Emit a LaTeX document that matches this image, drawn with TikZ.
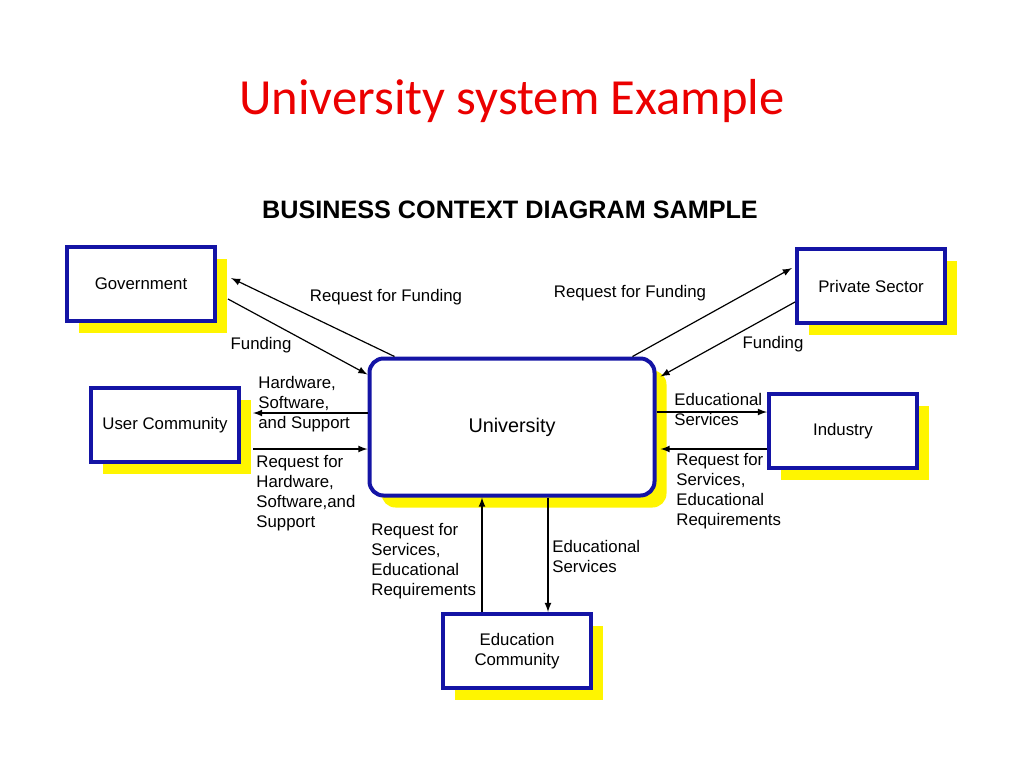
\documentclass[tikz,border=0pt]{standalone}
\usepackage{fontspec}
\setmainfont{Liberation Sans}
\newfontfamily\titlefont{Carlito}
\usetikzlibrary{shadows}
\definecolor{boxblue}{RGB}{20,20,165}
\definecolor{titlered}{RGB}{235,0,0}
\definecolor{shadowyellow}{RGB}{255,245,0}
\begin{document}
\begin{tikzpicture}[x=0.5pt, y=-0.5pt, font=\fontsize{8.4}{10}\selectfont,
    entity/.style={draw=boxblue, line width=2pt, fill=white, align=center,
      minimum width=74pt, minimum height=37pt,
      drop shadow={fill=shadowyellow, shadow xshift=6pt, shadow yshift=-6pt, opacity=1}},
    flow/.style={align=left, inner sep=0pt, anchor=west},
    link/.style={-latex, line width=0.6pt}]
            \useasboundingbox (0,0) rectangle (1024,768);
            % Titles
            \node[anchor=base, text=titlered, font=\titlefont\fontsize{25.3}{30}\selectfont] (title) at (512,114) {University system Example};
            \node[anchor=base, font=\bfseries\fontsize{12.6}{15}\selectfont] (sub) at (510,218) {BUSINESS CONTEXT DIAGRAM SAMPLE};

            % Nodes
            \node[entity] (gov) at (141,284) {Government};
            \node[entity] (priv) at (871,286) {Private Sector};
            \node[entity] (user) at (165,425) {User Community};
            \node[entity] (ind) at (843,431) {Industry};
            \node[entity] (edu) at (517,651) {Education\\Community};
            \node[entity, rounded corners=7pt, minimum width=142.5pt, minimum height=68.5pt,
              font=\fontsize{9.9}{12}\selectfont] (uni) at (512,427) {University};

            % Lines
            \draw[link] ([xshift=13.5pt]uni.north west) -- ([xshift=7pt,yshift=3pt]gov.east);
            \draw[link] ([xshift=5.5pt,yshift=-7.5pt]gov.east) -- ([yshift=-9pt]uni.north west);
            \draw[link] ([xshift=-12pt]uni.north east) -- ([xshift=-1.5pt,yshift=9pt]priv.west);
            \draw[link] ([yshift=-8pt]priv.west) -- ([xshift=2pt,yshift=-10pt]uni.north east);
            \draw[link] ([yshift=7pt]uni.west) -- ([xshift=6pt,yshift=6pt]user.east);
            \draw[link] ([xshift=6pt,yshift=-12pt]user.east) -- ([yshift=-11pt]uni.west);
            \draw[link] ([yshift=7.5pt]uni.east) -- ([yshift=9.5pt]ind.west);
            \draw[link] ([yshift=-9pt]ind.west) -- ([xshift=2pt,yshift=-11pt]uni.east);
            \draw[link] ([xshift=-17.5pt]edu.north) -- ([xshift=-17.5pt]edu.north |- uni.south);
            \draw[link] ([xshift=18pt]uni.south) -- ([xshift=18pt]uni.south |- edu.north);

            % Labels
            \node[flow, anchor=center] (gr) at (386,297) {Request for Funding};
            \node[flow, anchor=center] (gf) at (261,345) {Funding};
            \node[flow, anchor=center] (pr) at (630,293) {Request for Funding};
            \node[flow, anchor=center] (pf) at (773,344) {Funding};
            \node[flow] (uh) at (258,404) {Hardware,\\Software,\\and Support};
            \node[flow] (ur) at (256,493) {Request for\\Hardware,\\Software,and\\Support};
            \node[flow] (ie) at (674,409) {Educational\\Services};
            \node[flow] (ir) at (676,491) {Request for\\Services,\\Educational\\Requirements};
            \node[flow] (er) at (371,561) {Request for\\Services,\\Educational\\Requirements};
            \node[flow] (ee) at (552,556) {Educational\\Services};
        \end{tikzpicture}
\end{document}
